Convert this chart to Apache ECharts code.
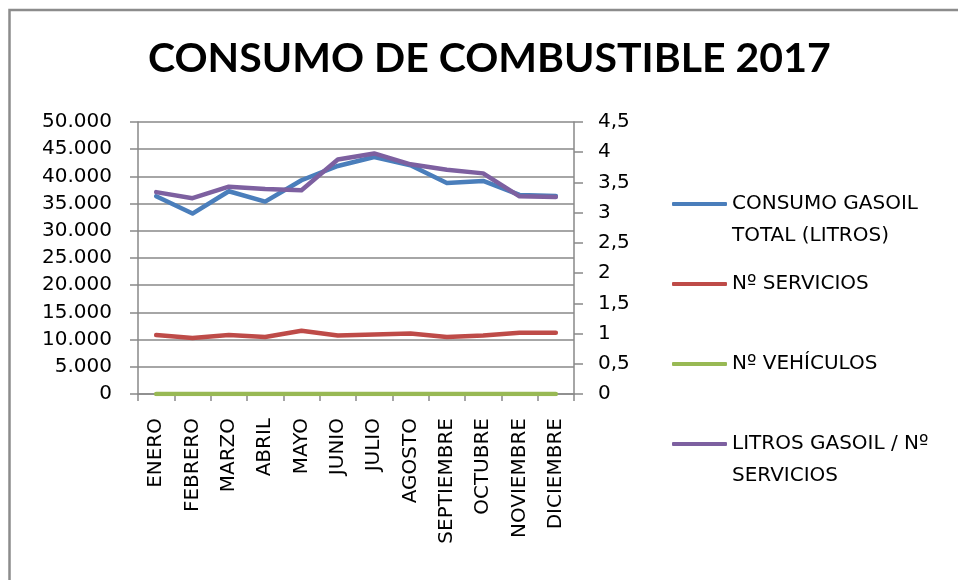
<!DOCTYPE html>
<html>
<head>
<meta charset="utf-8">
<script src="https://cdn.jsdelivr.net/npm/echarts@6/dist/echarts.min.js"></script>
<style>html,body{margin:0;padding:0;background:#fff}#c{width:958px;height:580px}</style>
</head>
<body>
<div id="c"></div>
<script>
var months = ['ENERO','FEBRERO','MARZO','ABRIL','MAYO','JUNIO','JULIO','AGOSTO','SEPTIEMBRE','OCTUBRE','NOVIEMBRE','DICIEMBRE'];
var consumoGasoil = [36350, 33170, 37270, 35370, 39290, 41920, 43570, 42040, 38800, 39170, 36600, 36410];
var numServicios = [10830, 10280, 10830, 10470, 11630, 10770, 10950, 11140, 10470, 10770, 11260, 11260];
var numVehiculos = [20, 20, 20, 20, 20, 20, 20, 20, 20, 20, 20, 20];
var litrosPorServicio = [3.34, 3.24, 3.43, 3.39, 3.37, 3.88, 3.98, 3.80, 3.71, 3.65, 3.27, 3.26];
var seriesNames = ['CONSUMO GASOIL TOTAL (LITROS)', 'Nº SERVICIOS', 'Nº VEHÍCULOS', 'LITROS GASOIL / Nº SERVICIOS'];
var legendLabels = ['CONSUMO GASOIL\nTOTAL (LITROS)', 'Nº SERVICIOS', 'Nº VEHÍCULOS', 'LITROS GASOIL / Nº\nSERVICIOS'];

var FONT = '"DejaVu Sans", sans-serif';
var GRAY = '#898989';
var colors = ['#4A7EBB', '#BE4B48', '#98B954', '#7D60A0'];

function fmtThousands(v) {
  return String(Math.round(v)).replace(/\B(?=(\d{3})+(?!\d))/g, '.');
}
function fmtDecimal(v) {
  return String(Math.round(v * 10) / 10).replace('.', ',');
}

var chart = echarts.init(document.getElementById('c'), null, {renderer: 'canvas'});

var legendTops = [156, 268, 348, 396];
var legends = seriesNames.map(function (n, i) {
  var two = legendLabels[i].indexOf('\n') >= 0;
  return {
    data: [n],
    left: 672,
    top: legendTops[i],
    orient: 'vertical',
    padding: 0,
    itemWidth: 55,
    itemHeight: 4,
    icon: 'roundRect',
    selectedMode: false,
    formatter: function () { return two ? ' \n' + legendLabels[i] : legendLabels[i]; },
    textStyle: {fontFamily: FONT, fontSize: 20, color: '#000', lineHeight: 32}
  };
});

function mkLine(i, data, axisIdx) {
  return {
    name: seriesNames[i],
    type: 'line',
    data: data,
    yAxisIndex: axisIdx,
    symbol: 'none',
    showSymbol: false,
    color: colors[i],
    itemStyle: {color: colors[i]},
    lineStyle: {color: colors[i], width: 4.5, cap: 'round', join: 'round'},
    animation: false
  };
}

chart.setOption({
  backgroundColor: '#fff',
  animation: false,
  title: {
    text: 'CONSUMO DE COMBUSTIBLE 2017',
    left: 148,
    top: 38,
    padding: 0,
    textStyle: {fontFamily: 'Lato, "Open Sans", sans-serif', fontWeight: 'bold', fontSize: 41, color: '#000'}
  },
  graphic: [{
    type: 'rect',
    shape: {x: 9.5, y: 10, width: 1200, height: 1000},
    style: {fill: 'none', stroke: '#8c8c8c', lineWidth: 2.5},
    silent: true
  }],
  legend: legends,
  grid: {left: 138, right: 384, top: 122, bottom: 186, containLabel: false},
  xAxis: {
    type: 'category',
    data: months,
    boundaryGap: true,
    axisLine: {lineStyle: {color: GRAY, width: 1.5}},
    axisTick: {show: true, length: 7, lineStyle: {color: GRAY, width: 1.5}},
    axisLabel: {rotate: 90, margin: 24, interval: 0, fontFamily: FONT, fontSize: 20, color: '#000'}
  },
  yAxis: [{
    type: 'value',
    min: 0, max: 50000, interval: 5000,
    position: 'left',
    axisLine: {show: true, lineStyle: {color: GRAY, width: 1.5}},
    axisTick: {show: true, length: 8, lineStyle: {color: GRAY, width: 1.5}},
    splitLine: {show: true, lineStyle: {color: GRAY, width: 1.5}},
    axisLabel: {margin: 26, fontFamily: FONT, fontSize: 20, color: '#000', formatter: fmtThousands}
  }, {
    type: 'value',
    min: 0, max: 4.5, interval: 0.5,
    position: 'right',
    axisLine: {show: true, lineStyle: {color: GRAY, width: 1.5}},
    axisTick: {show: true, length: 9, lineStyle: {color: GRAY, width: 1.5}},
    splitLine: {show: false},
    axisLabel: {margin: 24, fontFamily: FONT, fontSize: 20, color: '#000', formatter: fmtDecimal}
  }],
  series: [
    mkLine(0, consumoGasoil, 0),
    mkLine(1, numServicios, 0),
    mkLine(2, numVehiculos, 0),
    mkLine(3, litrosPorServicio, 1)
  ]
});
</script>
</body>
</html>
